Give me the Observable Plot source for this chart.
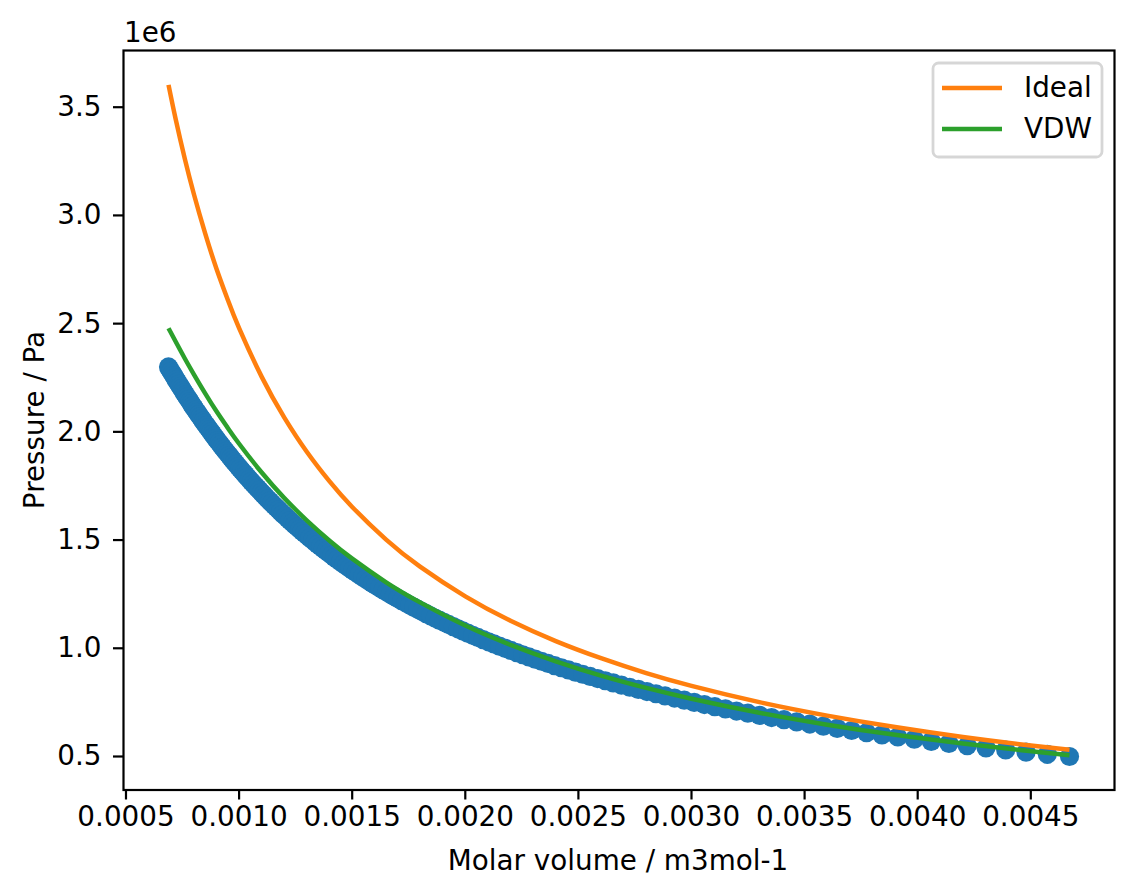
<!DOCTYPE html>
<html><head><meta charset="utf-8">
<script src="https://cdn.jsdelivr.net/npm/d3@7"></script>
<script src="https://cdn.jsdelivr.net/npm/@observablehq/plot@0.6"></script>
<style>body{margin:0;background:#fff}#chart{width:1134px;height:896px}</style>
</head><body><div id="chart"></div>
<script>
// Measured points: pressure (kPa) and molar volume (cm3/mol, i.e. 1e-6 m3/mol)
const pressureKPa = [2300,2290,2280,2270,2260,2250,2240,2230,2220,2210,2200,2190,2180,2170,2160,2150,2140,2130,2120,2110,
2100,2090,2080,2070,2060,2050,2040,2030,2020,2010,2000,1990,1980,1970,1960,1950,1940,1930,1920,1910,
1900,1890,1880,1870,1860,1850,1840,1830,1820,1810,1800,1790,1780,1770,1760,1750,1740,1730,1720,1710,
1700,1690,1680,1670,1660,1650,1640,1630,1620,1610,1600,1590,1580,1570,1560,1550,1540,1530,1520,1510,
1500,1490,1480,1470,1460,1450,1440,1430,1420,1410,1400,1390,1380,1370,1360,1350,1340,1330,1320,1310,
1300,1290,1280,1270,1260,1250,1240,1230,1220,1210,1200,1190,1180,1170,1160,1150,1140,1130,1120,1110,
1100,1090,1080,1070,1060,1050,1040,1030,1020,1010,1000,990,980,970,960,950,940,930,920,910,
900,890,880,870,860,850,840,830,820,810,800,790,780,770,760,750,740,730,720,710,
700,690,680,670,660,650,640,630,620,610,600,590,580,570,560,550,540,530,520,510,500];
const volumeCm3 = [688,693,699,705,711,716,722,728,734,740,746,752,758,764,770,777,783,789,795,802,
808,815,821,828,835,841,848,855,862,869,876,883,890,897,904,912,919,926,934,941,
949,957,964,972,980,988,996,1004,1012,1021,1029,1037,1046,1054,1063,1072,1081,1090,1099,1108,
1117,1126,1136,1145,1155,1165,1175,1184,1194,1205,1215,1225,1236,1246,1257,1268,1279,1290,1302,1313,
1325,1336,1348,1360,1372,1385,1397,1410,1422,1435,1448,1462,1475,1489,1503,1517,1531,1546,1560,1575,
1590,1605,1621,1637,1653,1669,1686,1702,1719,1737,1754,1772,1790,1809,1827,1846,1866,1885,1906,1926,
1947,1968,1989,2011,2033,2056,2079,2103,2127,2151,2176,2202,2228,2254,2281,2309,2337,2366,2395,2425,
2456,2487,2519,2552,2585,2619,2654,2690,2727,2765,2803,2843,2883,2925,2968,3012,3057,3103,3150,3199,
3249,3301,3354,3409,3465,3523,3583,3644,3708,3774,3842,3912,3985,4060,4138,4219,4302,4389,4479,4573,4671];

// Model curves: volume (cm3/mol), pressure (MPa)
const lineVolumeCm3 = [688,720,760,800,850,900,950,1000,1100,1200,1300,1400,1500,1650,1800,2000,2200,2400,2600,2800,3000,3300,3600,3900,4200,4450,4671];
const idealMPa = [3.603,3.443,3.262,3.099,2.917,2.754,2.610,2.479,2.254,2.066,1.907,1.771,1.653,1.502,1.377,1.240,1.127,1.033,0.954,0.885,0.826,0.751,0.689,0.636,0.590,0.557,0.531];
const vdwMPa = [2.479,2.416,2.339,2.266,2.178,2.095,2.018,1.945,1.812,1.694,1.590,1.497,1.414,1.305,1.212,1.105,1.016,0.940,0.874,0.817,0.767,0.702,0.647,0.600,0.560,0.530,0.506];

const xTicks = [0.0005,0.0010,0.0015,0.0020,0.0025,0.0030,0.0035,0.0040,0.0045];
const yTicks = [500000,1000000,1500000,2000000,2500000,3000000,3500000];
const seriesNames = ["Ideal","VDW"];
const seriesColors = ["#ff7f0e","#2ca02c"];

const measured = pressureKPa.map((p,i)=>({v: volumeCm3[i]*1e-6, p: p*1e3}));
const idealRows = lineVolumeCm3.map((v,i)=>({v: v*1e-6, p: idealMPa[i]*1e6}));
const vdwRows = lineVolumeCm3.map((v,i)=>({v: v*1e-6, p: vdwMPa[i]*1e6}));

const FS = 27.8;
const LW = 4.5;
const FONT = "'DejaVu Sans', sans-serif";

const plot = Plot.plot({
  width: 1134, height: 896,
  marginLeft: 123, marginRight: 20, marginTop: 50, marginBottom: 106.5,
  style: {fontFamily: FONT, fontSize: FS + "px", background: "white", color: "black", overflow: "visible"},
  x: {domain: [0.000489, 0.00487]},
  y: {domain: [345200, 3762000]},
  marks: [
    Plot.dot(measured, {x: "v", y: "p", r: 9.6, fill: "#1f77b4", stroke: null}),
    Plot.line(idealRows, {x: "v", y: "p", stroke: seriesColors[0], strokeWidth: LW, curve: "natural", strokeLinecap: "butt"}),
    Plot.line(vdwRows, {x: "v", y: "p", stroke: seriesColors[1], strokeWidth: LW, curve: "natural", strokeLinecap: "butt"}),
    Plot.frame({stroke: "black", strokeWidth: 2.2}),
    Plot.axisX({ticks: xTicks, tickFormat: d => d.toFixed(4), tickSize: 10, tickPadding: 6, strokeWidth: 2.2, label: null, fontSize: FS}),
    Plot.axisY({ticks: yTicks, tickFormat: d => (d/1e6).toFixed(1), tickSize: 10, tickPadding: 12, strokeWidth: 2.2, label: null, fontSize: FS})
  ]
});

document.getElementById("chart").appendChild(plot);
const svg = d3.select(plot);
const txt = (x, y, s, anchor, rot) => {
  const t = svg.append("text").attr("x", x).attr("y", y).text(s)
    .attr("font-family", FONT).attr("font-size", FS).attr("fill", "black")
    .attr("text-anchor", anchor || "start");
  if (rot) t.attr("transform", `rotate(${rot},${x},${y})`);
  return t;
};
txt(124, 42, "1e6");
txt(618, 870, "Molar volume / m3mol-1", "middle");
txt(44, 420, "Pressure / Pa", "middle", -90);

// legend
const lg = svg.append("g");
lg.append("rect").attr("x", 933).attr("y", 63).attr("width", 169).attr("height", 94).attr("rx", 5.6)
  .attr("fill", "white").attr("fill-opacity", 0.8).attr("stroke", "#cccccc").attr("stroke-opacity", 0.8).attr("stroke-width", 2.78);
seriesNames.forEach((name, i) => {
  const yy = 88 + i * 41;
  lg.append("line").attr("x1", 942).attr("x2", 1002).attr("y1", yy).attr("y2", yy)
    .attr("stroke", seriesColors[i]).attr("stroke-width", LW);
  txt(1024, yy + 9, name, "start");
});
</script>
</body></html>
